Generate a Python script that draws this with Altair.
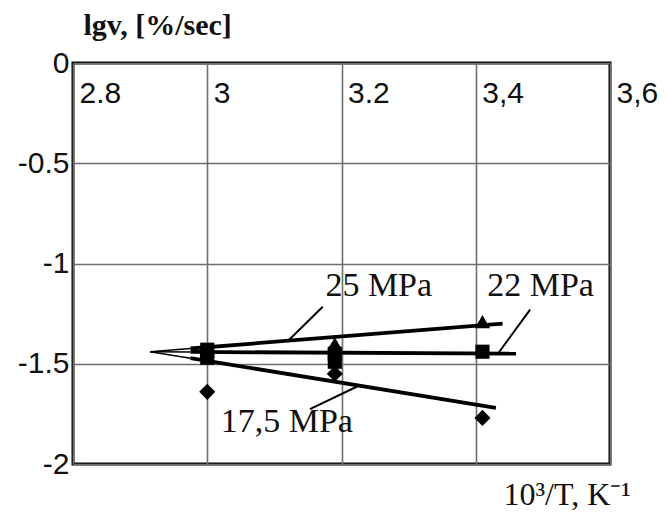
import altair as alt
import pandas as pd

# ---- data ----
tri_x = [3.0, 3.19, 3.41]
tri_y = [-1.44, -1.40, -1.29]
sq_x = [3.0, 3.0, 3.19, 3.19, 3.41]
sq_y = [-1.43, -1.47, -1.45, -1.49, -1.44]
dia_x = [3.0, 3.19, 3.41]
dia_y = [-1.64, -1.55, -1.77]

# fitted lines (start, end)
line_names = ["25 MPa", "22 MPa", "17,5 MPa"]
line_x0 = [2.915, 2.915, 2.915]
line_y0 = [-1.44, -1.44, -1.44]
line_xm = [2.975, 2.975, 2.975]
line_ym = [-1.424, -1.441, -1.472]
line_x1 = [3.44, 3.46, 3.43]
line_y1 = [-1.30, -1.45, -1.72]

# annotation labels and leaders
ann_text = ["25 MPa", "22 MPa", "17,5 MPa"]
ann_x = [3.176, 3.417, 3.02]
ann_y = [-1.11, -1.11, -1.79]
lead_x0 = [3.172, 3.481, 3.153]
lead_y0 = [-1.216, -1.23, -1.726]
lead_x1 = [3.122, 3.433, 3.228]
lead_y1 = [-1.38, -1.45, -1.606]

x_ticks = [2.8, 3.0, 3.2, 3.4, 3.6]
x_labels = ["2.8", "3", "3.2", "3,4", "3,6"]
y_ticks = [0, -0.5, -1, -1.5, -2]
y_labels = ["0", "-0.5", "-1", "-1.5", "-2"]

x_expr = " : ".join(
    f"abs(datum.value - {v}) < 0.001 ? '{l}'" for v, l in zip(x_ticks, x_labels)
) + " : ''"
y_expr = " : ".join(
    f"abs(datum.value - ({v})) < 0.001 ? '{l}'" for v, l in zip(y_ticks, y_labels)
) + " : ''"

xs = alt.Scale(domain=[2.8, 3.6], nice=False, zero=False)
ys = alt.Scale(domain=[-2, 0], nice=False, zero=False)

x_axis = alt.Axis(
    orient="top", values=x_ticks, labelExpr=x_expr, grid=True,
    gridColor="#6e6e6e", gridWidth=1.6, domain=False, ticks=False,
    labelAlign="left", labelBaseline="top", labelPadding=-15, labelOffset=6,
    labelFlush=False, labelBound=False, labelOverlap=False,
    labelFont="Liberation Sans", labelFontSize=30, labelColor="#111",
    title="10³/T, K⁻¹", titleFont="Liberation Serif", titleFontSize=32,
    titleFontWeight="normal", titleColor="#111", titleAlign="left",
    titleBaseline="alphabetic", titleAnchor="start", titleX=430, titleY=441,
)
y_axis = alt.Axis(
    values=y_ticks, labelExpr=y_expr, grid=True, gridColor="#6e6e6e",
    gridWidth=1.6, domain=False, ticks=False, labelPadding=4,
    labelFlush=False, labelBound=False, labelOverlap=False,
    labelFont="Liberation Sans", labelFontSize=30, labelColor="#111",
    labelBaseline="middle",
    title="lgv, [%/sec]", titleAngle=0, titleFont="Liberation Serif",
    titleFontSize=30, titleFontWeight="bold", titleColor="#111",
    titleAlign="left", titleBaseline="alphabetic", titleAnchor="start",
    titleX=10, titleY=-29,
)

base_df = pd.DataFrame({"x": [2.8], "y": [0.0]})
axes = alt.Chart(base_df).mark_point(opacity=0).encode(
    x=alt.X("x:Q", scale=xs, axis=x_axis),
    y=alt.Y("y:Q", scale=ys, axis=y_axis),
)

lines_df = pd.DataFrame({
    "name": line_names, "x0": line_xm, "y0": line_ym, "x1": line_x1, "y1": line_y1,
})
thin_df = pd.DataFrame({
    "name": line_names, "x0": line_x0, "y0": line_y0, "x1": line_xm, "y1": line_ym,
})
thick = alt.Chart(lines_df).mark_rule(color="black", strokeWidth=3.8).encode(
    x=alt.X("x0:Q", scale=xs), y=alt.Y("y0:Q", scale=ys), x2="x1:Q", y2="y1:Q"
)
thin = alt.Chart(thin_df).mark_rule(color="black", strokeWidth=1.5).encode(
    x=alt.X("x0:Q", scale=xs), y=alt.Y("y0:Q", scale=ys), x2="x1:Q", y2="y1:Q"
)

lead_df = pd.DataFrame({"x0": lead_x0, "y0": lead_y0, "x1": lead_x1, "y1": lead_y1})
leaders = alt.Chart(lead_df).mark_rule(color="black", strokeWidth=2).encode(
    x=alt.X("x0:Q", scale=xs), y=alt.Y("y0:Q", scale=ys), x2="x1:Q", y2="y1:Q"
)

ann_df = pd.DataFrame({"t": ann_text, "x": ann_x, "y": ann_y})
anns = alt.Chart(ann_df).mark_text(
    font="Liberation Serif", fontSize=34, align="left", baseline="middle",
    color="#111",
).encode(x=alt.X("x:Q", scale=xs), y=alt.Y("y:Q", scale=ys), text="t:N")

tri = alt.Chart(pd.DataFrame({"x": tri_x, "y": tri_y})).mark_point(
    shape="triangle-up", filled=True, color="black", size=230, opacity=1
).encode(x=alt.X("x:Q", scale=xs), y=alt.Y("y:Q", scale=ys))
sq = alt.Chart(pd.DataFrame({"x": sq_x, "y": sq_y})).mark_point(
    shape="square", filled=True, color="black", size=200, opacity=1
).encode(x=alt.X("x:Q", scale=xs), y=alt.Y("y:Q", scale=ys))
dia = alt.Chart(pd.DataFrame({"x": dia_x, "y": dia_y})).mark_point(
    shape="diamond", filled=True, color="black", size=260, opacity=1
).encode(x=alt.X("x:Q", scale=xs), y=alt.Y("y:Q", scale=ys))

chart = alt.layer(axes, thin, thick, leaders, tri, sq, dia, anns).properties(
    width=537, height=401,
    autosize=alt.AutoSizeParams(type="none"),
    padding={"left": 65, "top": 55, "right": 49, "bottom": 48},
    background="white",
).configure_view(stroke="black", strokeWidth=3)

chart.save("out.html", embed_options={"renderer": "svg", "actions": False})
